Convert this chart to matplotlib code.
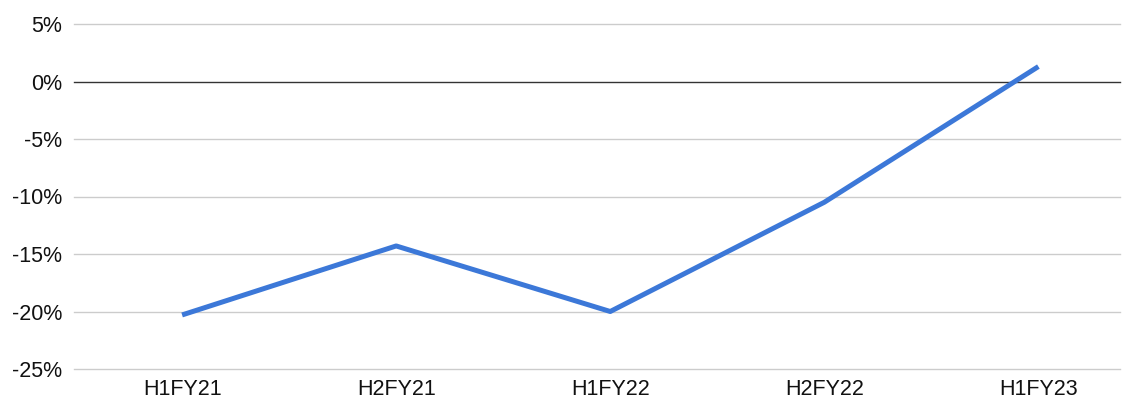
import matplotlib
matplotlib.use("Agg")
import matplotlib.pyplot as plt
from matplotlib.ticker import FuncFormatter

# Data
periods = ["H1FY21", "H2FY21", "H1FY22", "H2FY22", "H1FY23"]
change_pct = [-20.3, -14.3, -20.0, -10.5, 1.3]
y_ticks = [-25, -20, -15, -10, -5, 0, 5]

plt.rcParams["font.family"] = ["Liberation Sans", "DejaVu Sans"]

fig = plt.figure(figsize=(11.33, 4), dpi=100)
ax = fig.add_axes([0.0653, 0.0775, 0.923, 0.8625])

for t in y_ticks:
    if t == 0:
        ax.axhline(t, color="#333333", linewidth=1.0, zorder=1, clip_on=False)
    else:
        ax.axhline(t, color="#cccccc", linewidth=1.0, zorder=1, clip_on=False)

x = list(range(len(periods)))
ax.plot(x, change_pct, color="#3c78d8", linewidth=3.6, solid_capstyle="butt", zorder=3)

ax.set_ylim(-25, 5)
ax.set_xlim(-0.505, 4.38)
ax.set_yticks(y_ticks)
ax.yaxis.set_major_formatter(FuncFormatter(lambda v, p: f"{v:.0f}%"))
ax.set_xticks(x)
ax.set_xticklabels(periods)

ax.tick_params(axis="both", length=0, labelsize=15.5, colors="#111111")
ax.tick_params(axis="y", pad=8.5)
ax.tick_params(axis="x", pad=7)
for s in ax.spines.values():
    s.set_visible(False)

fig.savefig("out.png", dpi=100)
